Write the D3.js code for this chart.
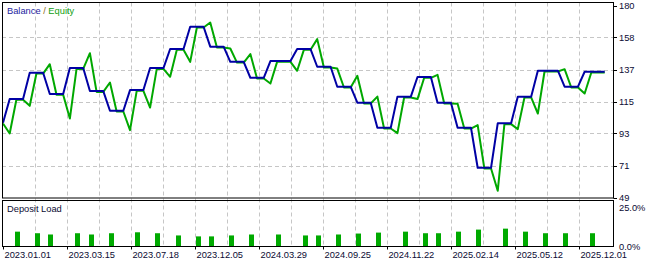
<!DOCTYPE html>
<html lang="en">
<head>
<meta charset="utf-8">
<title>Balance / Equity</title>
<script src="https://cdn.jsdelivr.net/npm/d3@7"></script>
<style>
  body { margin: 0; background: #fff; }
  svg text { font-family: "Liberation Sans", Arial, sans-serif; font-size: 9.3px; }
</style>
</head>
<body>
<div id="chart"></div>
<script>
// trade data (x = deal index)
var tradeStart = [0,3,6,9,12,15,18,21,24,27,30,33,36,39,43,46,49,52,55,58,61,64,67,70,73,76,79,83,86];
var balance = [100,116.2,134.1,119.6,137.3,121.6,108.2,122.3,137.3,150.3,165.5,151.9,141.6,130.7,142.1,
               150.3,138.2,124.6,113.7,96.6,117.8,131.2,113.7,96.6,69.3,99.6,117.8,135.5,124.6,134.8];
var equityMid = [93.2,112.1,140.5,103.4,148.0,128.0,95.5,110.9,131.9,142.1,168.9,151.2,147.4,127.3,136.0,
                 157.6,137.5,132.6,118.4,93.5,116.7,133.2,113.5,98.9,54.1,96.2,106.8,137.1,120.5];
var lastIndex = 90;

// deposit load
var loadIdx = [2,5,7,11,13,16,20,23,26,29,31,34,37,41,45,47,50,53,56,60,63,65,68,71,75,78,81,84,88];
var loadPct = [9.4,8.4,7.6,8.4,7.6,8.4,9.0,8.4,7.0,6.4,6.4,7.0,7.6,7.6,7.0,7.0,7.6,8.2,8.8,9.4,
               8.4,8.4,9.4,10.7,11.3,9.4,8.4,8.4,8.4];

// axis labels
var yTickVals = [49, 70.83, 92.67, 114.5, 136.33, 158.17, 180];
var yTickLabels = ["49","71","93","115","137","158","180"];
var loadTickVals = [0, 25];
var loadTickLabels = ["0.0%","25.0%"];
var dateLabels = ["2023.01.01","2023.03.15","2023.07.18","2023.12.05","2024.03.29",
                  "2024.09.25","2024.11.22","2025.02.14","2025.05.12","2025.12.01"];
var datePos = [0, 9.57, 19.14, 28.72, 38.29, 47.86, 57.43, 67.0, 76.58, 86.15];

var W = 648, H = 262;
var left = 2, right = 613;
var mainTop = 2.5, mainBottom = 198;
var subTop = 201, subBottom = 246.5;

var svg = d3.select("#chart").append("svg")
  .attr("width", W)
  .attr("height", H);

var x = d3.scaleLinear().domain([0, lastIndex]).range([3, 604.7]);
var y = d3.scaleLinear().domain([49, 180]).range([197.5, 5.5]);
var yLoad = d3.scaleLinear().domain([0, 25]).range([subBottom, 207]);

var gridColor = "#c6c6c6";

// vertical grid: at every label and halfway between
var gridPos = [];
for (var i = 0; i < datePos.length; i++) {
  if (i > 0) gridPos.push(datePos[i]);
  if (i < datePos.length - 1) gridPos.push((datePos[i] + datePos[i + 1]) / 2);
}
svg.append("g").selectAll("line").data(gridPos).enter().append("line")
  .attr("x1", function(d){ return Math.round(x(d)) + 0.5; })
  .attr("x2", function(d){ return Math.round(x(d)) + 0.5; })
  .attr("y1", mainTop).attr("y2", subBottom)
  .attr("stroke", gridColor)
  .attr("stroke-dasharray", "4,3");

// horizontal grid (main panel)
svg.append("g").selectAll("line").data(yTickVals.slice(1, -1)).enter().append("line")
  .attr("x1", left).attr("x2", right)
  .attr("y1", function(d){ return Math.round(y(d)) + 0.5; })
  .attr("y2", function(d){ return Math.round(y(d)) + 0.5; })
  .attr("stroke", gridColor)
  .attr("stroke-dasharray", "4,3");

// build the line points
var balPts = [], eqPts = [];
for (var k = 0; k < tradeStart.length; k++) {
  var c = tradeStart[k];
  balPts.push([c, balance[k]]);
  balPts.push([c + 1, balance[k + 1]]);
  eqPts.push([c, balance[k]]);
  eqPts.push([c + 1, equityMid[k]]);
  eqPts.push([c + 2, balance[k + 1]]);
}
balPts.push([lastIndex, balance[balance.length - 1]]);
eqPts.push([lastIndex, balance[balance.length - 1]]);

var line = d3.line()
  .x(function(d){ return x(d[0]); })
  .y(function(d){ return y(d[1]); });

svg.append("path")
  .datum(eqPts)
  .attr("d", line)
  .attr("transform", "translate(0,0.8)")
  .attr("fill", "none")
  .attr("stroke", "#00a800")
  .attr("stroke-width", 2)
  .attr("stroke-linejoin", "round");

svg.append("path")
  .datum(balPts)
  .attr("d", line)
  .attr("fill", "none")
  .attr("stroke", "#0000a4")
  .attr("stroke-width", 2)
  .attr("stroke-linejoin", "round");

// deposit load bars
svg.append("g").selectAll("rect").data(loadIdx).enter().append("rect")
  .attr("x", function(d){ return Math.round(x(d) - 1.3); })
  .attr("width", 5)
  .attr("y", function(d, i){ return yLoad(loadPct[i]); })
  .attr("height", function(d, i){ return subBottom - yLoad(loadPct[i]); })
  .attr("fill", "#00aa00");

// panel frames
svg.append("rect")
  .attr("x", left + 0.5).attr("y", mainTop)
  .attr("width", right - left).attr("height", mainBottom - mainTop)
  .attr("fill", "none").attr("stroke", "#000");
svg.append("rect")
  .attr("x", left + 0.5).attr("y", subTop - 0.5)
  .attr("width", right - left).attr("height", subBottom - subTop + 0.5)
  .attr("fill", "none").attr("stroke", "#000");

// right axis labels
var labelColor = "#0b0b33";
svg.append("g").selectAll("text").data(yTickVals).enter().append("text")
  .attr("x", 619)
  .attr("y", function(d){ return y(d) + 3.5; })
  .attr("fill", labelColor)
  .text(function(d, i){ return yTickLabels[i]; });
svg.append("g").selectAll("line").data(yTickVals).enter().append("line")
  .attr("x1", right + 0.5).attr("x2", right + 4)
  .attr("y1", function(d){ return Math.round(y(d)) + 0.5; })
  .attr("y2", function(d){ return Math.round(y(d)) + 0.5; })
  .attr("stroke", "#000");

svg.append("g").selectAll("text").data(loadTickVals).enter().append("text")
  .attr("x", 619)
  .attr("y", function(d){ return yLoad(d) + 3.5; })
  .attr("fill", labelColor)
  .text(function(d, i){ return loadTickLabels[i]; });

// bottom date labels
svg.append("g").selectAll("line").data(datePos).enter().append("line")
  .attr("x1", function(d){ return Math.round(x(d)) + 0.5; })
  .attr("x2", function(d){ return Math.round(x(d)) + 0.5; })
  .attr("y1", subBottom).attr("y2", subBottom + 3)
  .attr("stroke", "#000");
svg.append("g").selectAll("text").data(datePos).enter().append("text")
  .attr("x", function(d){ return x(d) + 1.5; })
  .attr("y", 258)
  .attr("fill", labelColor)
  .text(function(d, i){ return dateLabels[i]; });

// panel titles
var legend = svg.append("text").attr("x", 7).attr("y", 14);
legend.append("tspan").attr("fill", "#1c1ca0").text("Balance");
legend.append("tspan").attr("fill", "#8a6a20").text(" / ");
legend.append("tspan").attr("fill", "#10a010").text("Equity");

svg.append("text")
  .attr("x", 7).attr("y", 211.5)
  .attr("fill", labelColor)
  .text("Deposit Load");
</script>
</body>
</html>
